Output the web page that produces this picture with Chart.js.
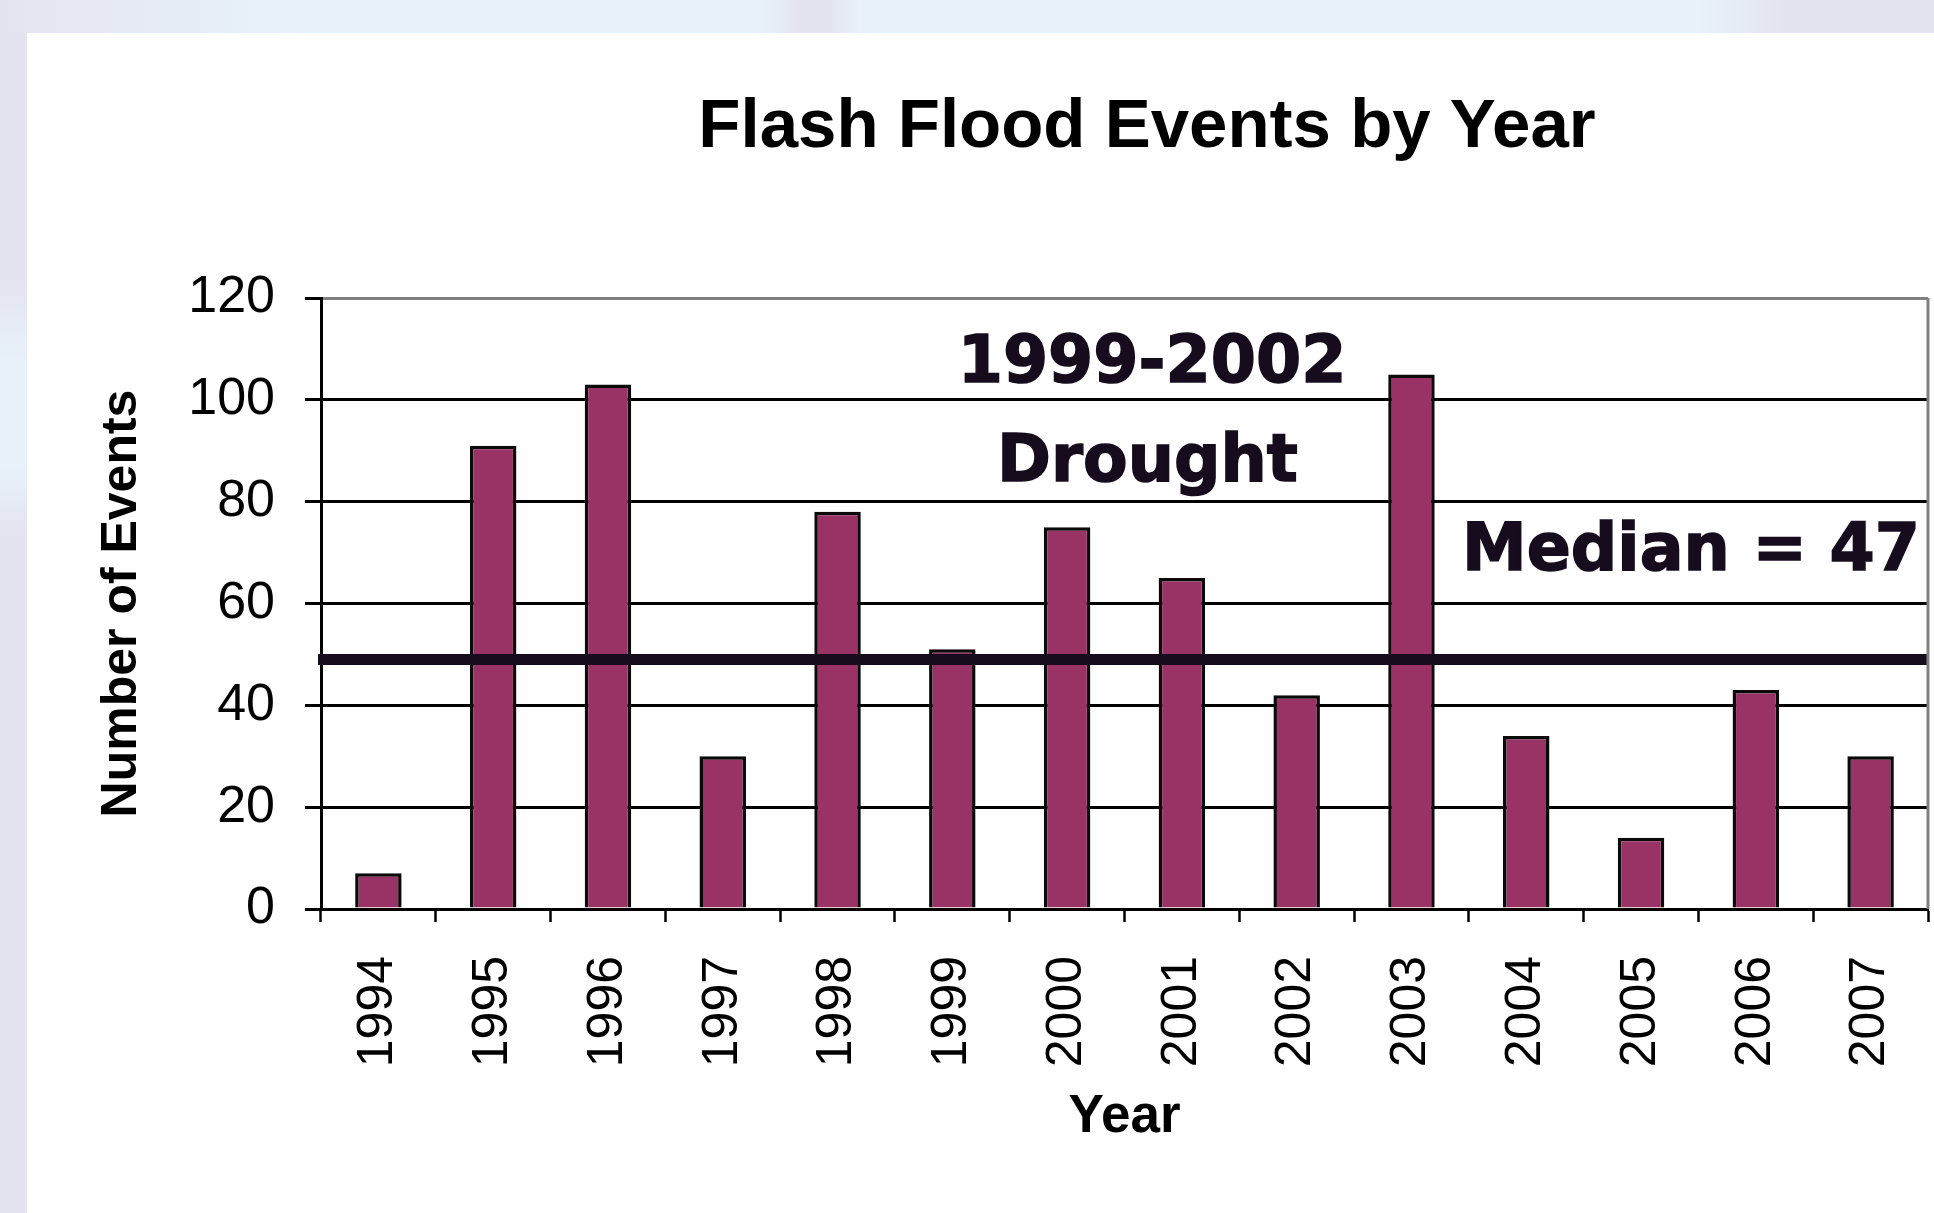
<!DOCTYPE html>
<html>
<head>
<meta charset="utf-8">
<title>Flash Flood Events by Year</title>
<script src="https://cdn.jsdelivr.net/npm/chart.js@4/dist/chart.umd.min.js"></script>
<style>
  html, body { margin: 0; padding: 0; }
  body {
    width: 1934px; height: 1213px; overflow: hidden; position: relative;
    background: linear-gradient(90deg, #e4e4f0 0px, #e8f2fa 300px, #e8f2fa 760px, #e4e4f0 800px, #e4e4f0 830px, #e8f2fa 860px, #e8f2fa 1700px, #e4e4f0 1780px);
  }
  #panel { position: absolute; left: 27px; top: 33px; right: 0; bottom: 0; background: #fff; }
  #leftStrip { position: absolute; left: 0; top: 33px; width: 27px; bottom: 0;
    background: linear-gradient(180deg, #e4e4f0 0px, #e4e4f0 250px, #e8f2fa 330px, #e8f2fa 430px, #e4e4f0 500px); }
  canvas { position: absolute; left: 0; top: 0; }
</style>
</head>
<body>
<div id="leftStrip"></div>
<div id="panel"></div>
<canvas id="floodChart" width="1934" height="1213"></canvas>
<script>
// Data
const years = ['1994', '1995', '1996', '1997', '1998', '1999', '2000',
               '2001', '2002', '2003', '2004', '2005', '2006', '2007'];
const floodEvents = [7, 91, 103, 30, 78, 51, 75, 65, 42, 105, 34, 14, 43, 30];
const medianLineValue = 49; // where the thick line sits on the value axis
const yTicks = [0, 20, 40, 60, 80, 100, 120];

const darkInk = '#170b1e';

Chart.defaults.font.family = '"Liberation Sans", Arial, sans-serif';
Chart.defaults.color = '#000';

// Title, drought note, median line and label
const annotationsPlugin = {
  id: 'annotations',
  afterDatasetsDraw(chart) {
    const ctx = chart.ctx;
    const area = chart.chartArea;
    const y = chart.scales.y.getPixelForValue(medianLineValue);
    ctx.save();
    ctx.strokeStyle = darkInk;
    ctx.lineWidth = 11;
    ctx.beginPath();
    ctx.moveTo(area.left - 3, y);
    ctx.lineTo(area.right, y);
    ctx.stroke();
    // right frame of the plot
    ctx.strokeStyle = '#808080';
    ctx.lineWidth = 3;
    ctx.beginPath();
    ctx.moveTo(area.right, area.top);
    ctx.lineTo(area.right, area.bottom);
    ctx.stroke();
    ctx.restore();
  },
  afterDraw(chart) {
    const ctx = chart.ctx;
    const xs = chart.scales.x;
    const ys = chart.scales.y;
    ctx.save();
    // chart title
    ctx.fillStyle = '#000';
    ctx.font = 'bold 69px "Liberation Sans", Arial, sans-serif';
    ctx.textAlign = 'center';
    ctx.textBaseline = 'alphabetic';
    ctx.fillText('Flash Flood Events by Year', 1147, 147);

    // heavy annotation text
    ctx.font = 'bold 65px "DejaVu Sans", sans-serif';
    ctx.fillStyle = darkInk;
    ctx.strokeStyle = darkInk;
    ctx.lineWidth = 1.5;
    const note = (text, xVal, yVal, align) => {
      ctx.textAlign = align;
      const px = xs.getPixelForValue(xVal);
      const py = ys.getPixelForValue(yVal);
      ctx.fillText(text, px, py);
      ctx.strokeText(text, px, py);
    };
    note('1999-2002', 6.74, 103.6, 'center');
    note('Drought', 6.70, 84.1, 'center');
    note('Median = 47', 13.43, 66.6, 'right');
    ctx.restore();
  }
};

const ctx = document.getElementById('floodChart').getContext('2d');
new Chart(ctx, {
  type: 'bar',
  data: {
    labels: years,
    datasets: [{
      label: 'Flash flood events',
      data: floodEvents,
      backgroundColor: '#993366',
      borderColor: '#0a0a0a',
      borderWidth: 3.5,
      barPercentage: 0.405,
      categoryPercentage: 1
    }]
  },
  options: {
    responsive: false,
    animation: false,
    layout: { padding: { top: 298, right: 6, left: 0, bottom: 0 } },
    plugins: {
      legend: { display: false },
      tooltip: { enabled: false },
      title: { display: false }
    },
    scales: {
      x: {
        grid: {
          offset: true,
          drawOnChartArea: false,
          drawTicks: true,
          tickLength: 13,
          tickWidth: 2.5,
          tickColor: '#000'
        },
        border: { display: true, color: '#000', width: 3 },
        ticks: {
          minRotation: 90,
          maxRotation: 90,
          padding: 34,
          color: '#000',
          font: { size: 50 }
        },
        title: {
          display: true,
          text: 'Year',
          color: '#000',
          font: { size: 53, weight: 'bold' },
          padding: { top: 0, bottom: 64 }
        },
        afterFit(scale) {
          scale.height = 304;
          scale.paddingLeft = 0;
          scale.paddingRight = 0;
        }
      },
      y: {
        min: 0,
        max: 120,
        afterBuildTicks(scale) { scale.ticks = yTicks.map(v => ({ value: v })); },
        grid: {
          color: (c) => (c.tick && c.tick.value === 120 ? '#808080' : '#000'),
          lineWidth: 3,
          drawTicks: true,
          tickLength: 16,
          tickColor: '#000',
          tickWidth: 3
        },
        border: { display: true, color: '#000', width: 3 },
        ticks: {
          padding: 30,
          color: '#000',
          font: { size: 52 }
        },
        title: {
          display: true,
          text: 'Number of Events',
          color: '#000',
          font: { size: 50, weight: 'bold' },
          padding: { top: 92, bottom: 0 }
        },
        afterFit(scale) {
          scale.width = 321;
          scale.paddingTop = 0;
          scale.paddingBottom = 0;
        }
      }
    }
  },
  plugins: [annotationsPlugin]
});
</script>
</body>
</html>
